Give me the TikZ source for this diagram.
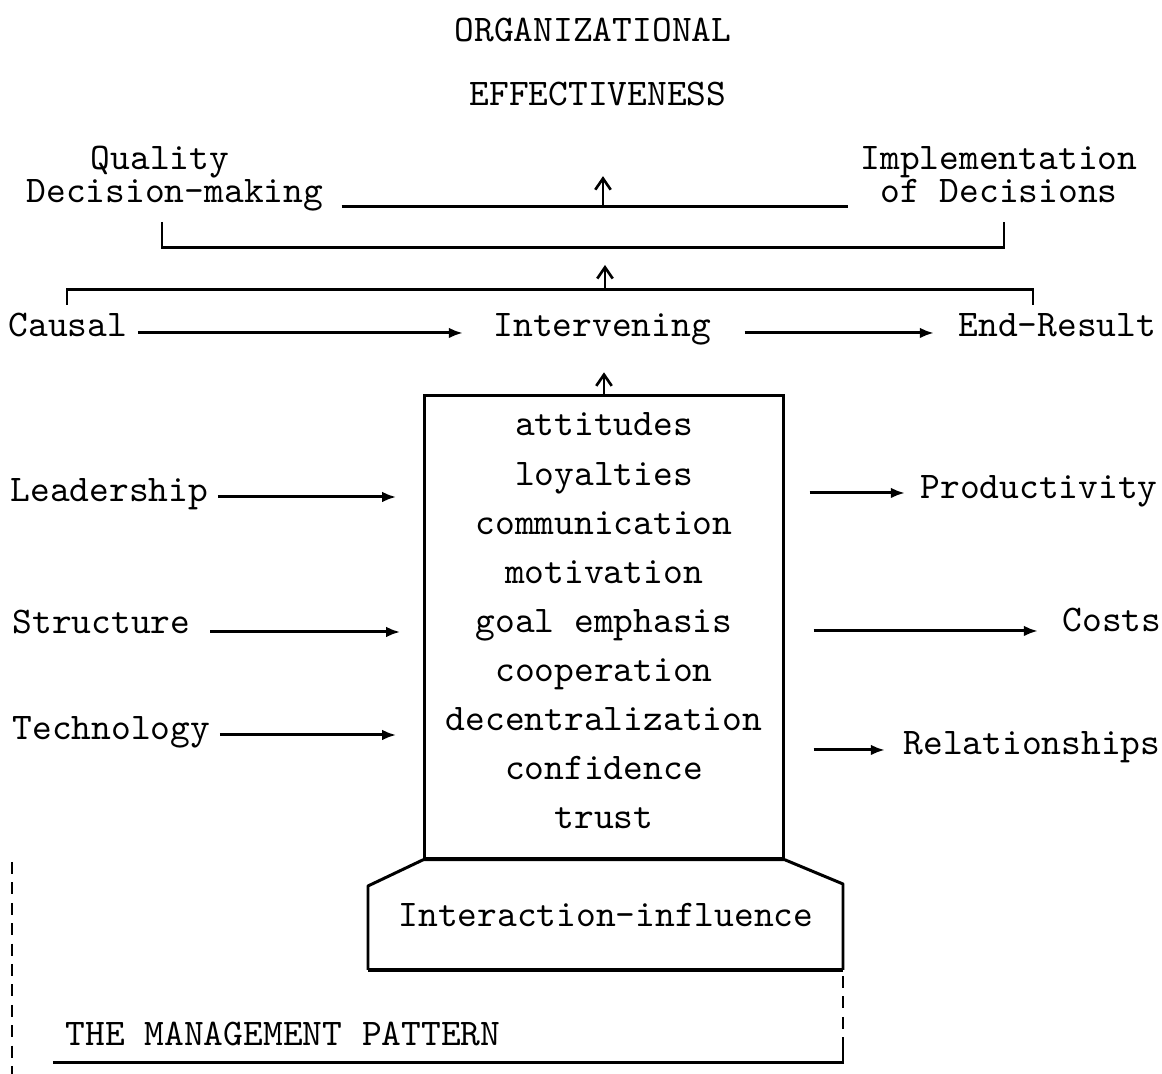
\documentclass[tikz,border=0pt]{standalone}
\usepackage{fontspec}
\usetikzlibrary{arrows.meta,calc,positioning}
\tikzset{
  txt/.style={inner sep=0pt,font=\ttfamily\fontsize{10.7}{12}\selectfont},
  item/.style={txt,text height=0.24cm,text depth=0.07cm},
  arrow/.style={-{Latex[length=4pt,width=3pt]},line width=0.85pt},
  uparrow/.style={-{Straight Barb[length=3.2pt,width=4.4pt]},line width=0.75pt},
  bracket/.style={line width=0.85pt},
  dashline/.style={line width=0.7pt,dash pattern=on 3.4pt off 2.4pt}
}
\begin{document}
\begin{tikzpicture}[x=0.01cm,y=-0.01cm]
  \useasboundingbox (0,0) rectangle (1162,1074);
  % heading
  \node[txt,anchor=base] (organ) at (593,42) {ORGANIZATIONAL};
  \node[txt,anchor=base] (effect) at (598,106) {EFFECTIVENESS};
  \node[txt,anchor=base] (quality) at (160,170) {Quality};
  \node[txt,anchor=base west] (decmak) at (26,203) {Decision-making};
  \node[txt,anchor=base west] (implem) at (860,170) {Implementation};
  \node[txt,anchor=base west] (ofdec) at (880,203) {of Decisions};
  \node[txt,anchor=base west] (causal) at (8,337) {Causal};
  \node[txt,anchor=base west] (interv) at (493,337) {Intervening};
  \node[txt,anchor=base west] (endres) at (958,337) {End-Result};

  % top line and brackets
  \coordinate (topmid) at (603,207);
  \coordinate (b1l) at (162,222);
  \coordinate (b1r) at (1004,222);
  \coordinate (b1mid) at (605,248);
  \coordinate (b2l) at (67,305);
  \coordinate (b2r) at (1033,305);
  \coordinate (b2mid) at (605,290);
  \draw[bracket,shorten <=0.18cm,shorten >=0.32cm] ([yshift=-0.04cm]decmak.base east) -- ([yshift=-0.04cm]ofdec.base west);
  \draw[uparrow,shorten >=0.69cm] (topmid) -- (topmid |- effect.south);
  \draw[bracket] (b1l) |- (b1mid) -| (b1r);
  \draw[uparrow,shorten >=0.17cm] (b2mid) -- (b1mid);
  \draw[bracket] (b2l) -- ++(0,-15) -| (b2r);
  \draw[arrow,shorten <=0.1cm,shorten >=0.3cm] ([yshift=0.04cm]causal.base east) -- ([yshift=0.04cm]interv.base west);
  \draw[arrow,shorten <=0.33cm,shorten >=0.24cm] ([yshift=0.04cm]interv.base east) -- ([yshift=0.04cm]endres.base west);

  % intervening variables
  \node[draw,line width=0.9pt,minimum width=3.58cm,minimum height=4.62cm,inner sep=0pt] (box) at (604,627) {};
  \draw[uparrow,shorten >=0.26cm] (box.north) -- (box.north |- interv.south);
  \node[item,anchor=base] (att) at (604,436) {attitudes};
  \node[item,below=0.166cm of att] (loy) {loyalties};
  \node[item,below=0.166cm of loy] (comm) {communication};
  \node[item,below=0.166cm of comm] (motiv) {motivation};
  \node[item,below=0.166cm of motiv] (goal) {goal emphasis};
  \node[item,below=0.166cm of goal] (coop) {cooperation};
  \node[item,below=0.166cm of coop] (decen) {decentralization};
  \node[item,below=0.166cm of decen] (conf) {confidence};
  \node[item,below=0.166cm of conf] (trust) {trust};

  % base
  \coordinate (basetl) at (368,886);
  \coordinate (basetr) at (843,884);
  \coordinate (basebl) at (368,970);
  \coordinate (basebr) at (843,970);
  \draw[bracket,line join=round] (basebl) -- (basetl) -- (box.south west) -- (box.south east) -- (basetr) -- (basebr);
  \draw[line width=1.3pt] (basebl) -- (basebr);
  \node[txt,anchor=base] (interinf) at (606,927) {Interaction-influence};

  % causal variables
  \node[txt,anchor=base west] (lead) at (10,502) {Leadership};
  \node[txt,anchor=base west] (struct) at (12,634) {Structure};
  \node[txt,anchor=base west] (techn) at (12,740) {Technology};
  \draw[arrow,shorten <=0.09cm,shorten >=0.27cm] ($(lead.base east)+(0,-5)$) -- ($(lead.base east -| box.west)+(0,-5)$);
  \draw[arrow,shorten <=0.19cm,shorten >=0.23cm] ($(struct.base east)+(0,-2)$) -- ($(struct.base east -| box.west)+(0,-2)$);
  \draw[arrow,shorten <=0.09cm,shorten >=0.27cm] ($(techn.base east)+(0,-5)$) -- ($(techn.base east -| box.west)+(0,-5)$);

  % end-result variables
  \node[txt,anchor=base west] (prod) at (920,499) {Productivity};
  \node[txt,anchor=base west] (costs) at (1062,632) {Costs};
  \node[txt,anchor=base west] (relat) at (903,755) {Relationships};
  \draw[arrow,shorten <=0.25cm,shorten >=0.15cm] ($(prod.base west -| box.east)+(0,-6)$) -- ($(prod.base west)+(0,-6)$);
  \draw[arrow,shorten <=0.29cm,shorten >=0.24cm] ($(costs.base west -| box.east)+(0,-1)$) -- ($(costs.base west)+(0,-1)$);
  \draw[arrow,shorten <=0.29cm,shorten >=0.18cm] ($(relat.base west -| box.east)+(0,-5)$) -- ($(relat.base west)+(0,-5)$);

  % management pattern frame
  \coordinate (frtop) at (12,862);
  \coordinate (frbot) at (12,1074);
  \coordinate (frleft) at (53,1063);
  \coordinate (frright) at (843,1063);
  \node[txt,anchor=base west] (mgmt) at (65,1046) {THE MANAGEMENT PATTERN};
  \draw[dashline] (frtop) -- (frbot);
  \draw[bracket] (frleft) -- (frright) -- ++(0,-20);
  \draw[dashline] ($(basebr)+(0,6)$) -- ($(frright)+(0,-20)$);
\end{tikzpicture}
\end{document}
